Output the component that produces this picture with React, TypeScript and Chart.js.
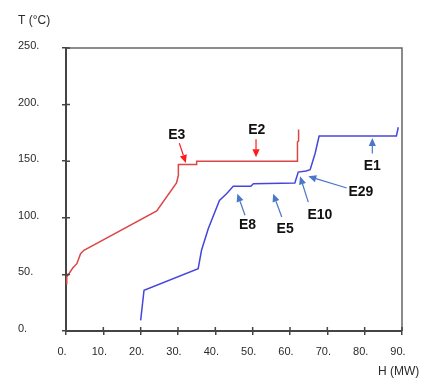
import React, { useEffect, useRef } from "react";
import { Chart, registerables } from "chart.js";

Chart.register(...registerables);

// Hot composite curve (red)
const hotH = [0, 0.2, 1.8, 2.9, 3.9, 4.8, 24.3, 29.6, 30.1, 30.1, 35.0, 35.0, 62.0, 62.0, 62.3, 62.3];
const hotT = [41.8, 47.7, 55.6, 59.5, 68.3, 71.3, 106, 130.7, 137.5, 147, 147, 150, 150, 167, 168, 178];

// Cold composite curve (blue)
const coldH = [20.0, 20.9, 35.4, 36.3, 38.1, 41.1, 43.0, 44.8, 49.5, 50.2, 61.3, 62.2, 64.3, 65.4, 66.7, 67.8, 88.5, 89.0];
const coldT = [9.4, 36, 55.1, 71.3, 90.4, 115.4, 121.3, 127.8, 127.8, 130.1, 130.7, 140.4, 141.3, 142.5, 156.6, 172.3, 172.3, 180];

// Annotations: label, label position (H,T), arrow start (H,T), arrow tip (H,T), colour key
const annLabels = ["E3", "E2", "E1", "E29", "E10", "E5", "E8"];
const annTextH = [29.65, 51.1, 82.05, 79.0, 68.0, 58.7, 48.6];
const annTextT = [172.8, 177.8, 145.7, 122.7, 102.2, 90.4, 93.3];
const annFromH = [30.35, 50.9, 82.05, 75.2, 64.9, 57.8, 47.95];
const annFromT = [166, 169.3, 156.9, 126.3, 113.9, 100.7, 102.2];
const annToH = [32.1, 50.9, 82.05, 64.9, 62.7, 55.5, 45.9];
const annToT = [148.5, 153.5, 170.4, 136.6, 136.6, 121.3, 121.3];
const annIsHot = [true, true, false, false, false, false, false];

const xMin = 0, xMax = 90, xStep = 10;
const yMin = 0, yMax = 250, yStep = 50;

export default function App() {
  const ref = useRef<HTMLCanvasElement | null>(null);

  useEffect(() => {
    document.body.style.margin = "0";
    const canvas = ref.current;
    if (!canvas) return;

    const framePlugin = {
      id: "frame",
      afterDraw(chart: any) {
        const ctx = chart.ctx;
        const { left, right, top, bottom } = chart.chartArea;
        const xs = chart.scales.x;
        const ys = chart.scales.y;
        ctx.save();
        // top & right frame
        ctx.strokeStyle = "#666";
        ctx.lineWidth = 1.5;
        ctx.beginPath();
        ctx.moveTo(left, top);
        ctx.lineTo(right, top);
        ctx.lineTo(right, bottom);
        ctx.stroke();
        // inner tick marks
        ctx.strokeStyle = "#444";
        ctx.lineWidth = 1.5;
        ctx.beginPath();
        xs.ticks.forEach((t: any) => {
          const px = xs.getPixelForValue(t.value);
          ctx.moveTo(px, bottom);
          ctx.lineTo(px, bottom - 4);
        });
        ys.ticks.forEach((t: any) => {
          const py = ys.getPixelForValue(t.value);
          ctx.moveTo(left, py);
          ctx.lineTo(left + 4, py);
        });
        ctx.stroke();

        // axis titles
        ctx.fillStyle = "#2a2a2a";
        ctx.font = "12px 'Liberation Sans', Arial, sans-serif";
        ctx.textBaseline = "middle";
        ctx.textAlign = "left";
        ctx.fillText("T (°C)", 18, 21);
        ctx.fillText("H (MW)", 378, 372);

        // annotations
        annLabels.forEach((lab, i) => {
          const col = annIsHot[i] ? "#ff1a1a" : "#4a78c8";
          const x0 = xs.getPixelForValue(annFromH[i]);
          const y0 = ys.getPixelForValue(annFromT[i]);
          const x1 = xs.getPixelForValue(annToH[i]);
          const y1 = ys.getPixelForValue(annToT[i]);
          const ang = Math.atan2(y1 - y0, x1 - x0);
          const hl = 8, hw = 3.6;
          const bx = x1 - hl * Math.cos(ang);
          const by = y1 - hl * Math.sin(ang);
          ctx.strokeStyle = col;
          ctx.lineWidth = 1.2;
          ctx.beginPath();
          ctx.moveTo(x0, y0);
          ctx.lineTo(bx, by);
          ctx.stroke();
          ctx.fillStyle = col;
          ctx.beginPath();
          ctx.moveTo(x1, y1);
          ctx.lineTo(bx + hw * Math.sin(ang), by - hw * Math.cos(ang));
          ctx.lineTo(bx - hw * Math.sin(ang), by + hw * Math.cos(ang));
          ctx.closePath();
          ctx.fill();

          ctx.fillStyle = "#111";
          ctx.font = "bold 14px 'Liberation Sans', Arial, sans-serif";
          ctx.textAlign = "center";
          ctx.textBaseline = "middle";
          ctx.fillText(lab, xs.getPixelForValue(annTextH[i]), ys.getPixelForValue(annTextT[i]));
        });
        ctx.restore();
      },
    };

    const chart = new Chart(canvas, {
      type: "scatter",
      data: {
        datasets: [
          {
            data: hotH.map((h, i) => ({ x: h, y: hotT[i] })),
            showLine: true,
            borderColor: "#dc4646",
            borderWidth: 1.5,
            pointRadius: 0,
            tension: 0,
          },
          {
            data: coldH.map((h, i) => ({ x: h, y: coldT[i] })),
            showLine: true,
            borderColor: "#4646dc",
            borderWidth: 1.5,
            pointRadius: 0,
            tension: 0,
          },
        ],
      },
      options: {
        responsive: false,
        animation: false,
        layout: { padding: { left: 18, top: 48, right: 33, bottom: 0 } },
        plugins: {
          legend: { display: false },
          tooltip: { enabled: false },
        },
        scales: {
          x: {
            type: "linear",
            min: xMin,
            max: xMax,
            afterFit: (s: any) => { s.height = 57; },
            ticks: {
              stepSize: xStep,
              color: "#2a2a2a",
              font: { family: "'Liberation Sans', Arial, sans-serif", size: 11 },
              padding: 10,
              labelOffset: -4,
              maxRotation: 0,
              callback: (v: any) => v + ".",
            },
            grid: { display: true, drawOnChartArea: false, drawTicks: true, tickLength: 4, color: "#444", lineWidth: 1.5 },
            border: { display: true, color: "#444", width: 2 },
          },
          y: {
            type: "linear",
            min: yMin,
            max: yMax,
            afterFit: (s: any) => { s.width = 48; },
            ticks: {
              stepSize: yStep,
              color: "#2a2a2a",
              font: { family: "'Liberation Sans', Arial, sans-serif", size: 11 },
              crossAlign: "far",
              labelOffset: -2,
              callback: (v: any) => v + ".",
            },
            grid: { display: true, drawOnChartArea: false, drawTicks: true, tickLength: 4, color: "#444", lineWidth: 1.5 },
            border: { display: true, color: "#444", width: 2 },
          },
        },
      },
      plugins: [framePlugin],
    });
    return () => chart.destroy();
  }, []);

  return <canvas ref={ref} width={435} height={388} style={{ display: "block" }} />;
}
